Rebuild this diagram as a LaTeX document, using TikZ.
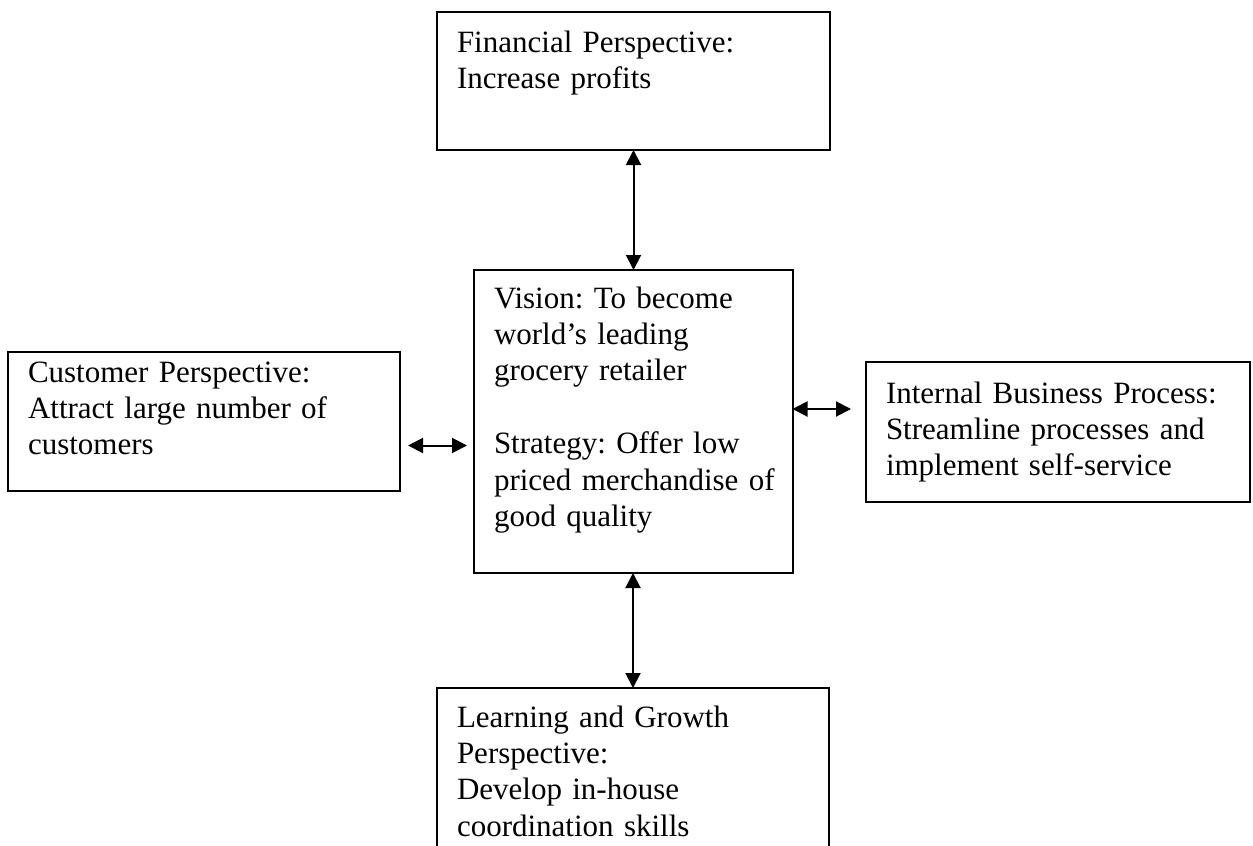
\documentclass[tikz,border=0pt]{standalone}
\usepackage{fontspec}
\setmainfont{Liberation Serif}
\usetikzlibrary{arrows.meta,calc}

\begin{document}
\begin{tikzpicture}[%
  x=0.5pt,y=-0.5pt,
  persp/.style={rectangle,draw,line width=1pt,anchor=north west,align=left,
    inner xsep=10pt,inner ysep=0pt,outer sep=0pt,
    font=\fontsize{15.5}{18.2}\selectfont\frenchspacing},
  link/.style={{Triangle[length=7.5pt,width=7.5pt]}-{Triangle[length=7.5pt,width=7.5pt]},
    line width=1pt}]
    \useasboundingbox (0,0) rectangle (1253,846);
    \clip (0,0) rectangle (1253,846);
    % Centre
    \node[persp,text width=139.25pt,text height=19pt,text depth=132.5pt]
      (vis) at (474,270) {Vision: To become\\world’s leading\\grocery retailer\\[18.2pt]
        Strategy: Offer low\\\mbox{priced merchandise of}\\good quality};
    % Perspectives
    \node[persp,text width=176.5pt,text height=20pt,text depth=49pt]
      (fin) at (437,12) {Financial Perspective:\\Increase profits};
    \node[persp,text width=176pt,text height=15pt,text depth=54.5pt]
      (cust) at (8,352) {Customer Perspective:\\Attract large number of\\customers};
    \node[persp,text width=172pt,text height=20.75pt,text depth=49.25pt]
      (intl) at (866,361.5) {Internal Business Process:\\Streamline processes and\\implement self-service};
    \node[persp,text width=176pt,text height=19.5pt,text depth=66.5pt]
      (learn) at (437,688) {Learning and Growth\\Perspective:\\Develop in-house\\coordination skills};
    % Links
    \coordinate (cl) at ([yshift=-12pt]vis.west);
    \coordinate (cr) at ([yshift=6.25pt]vis.east);
    \draw[link] (fin.south) -- (fin.south |- vis.north);
    \draw[link] (learn.north) -- (learn.north |- vis.south);
    \draw[link,shorten <=4pt,shorten >=3.5pt] (cl -| cust.east) -- (cl);
    \draw[link,shorten >=7.5pt] (cr) -- (cr -| intl.west);
\end{tikzpicture}
\end{document}
